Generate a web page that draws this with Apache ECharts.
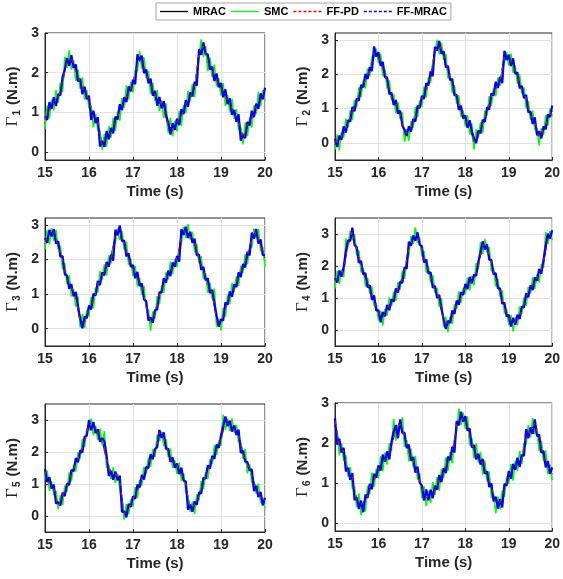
<!DOCTYPE html>
<html>
<head>
<meta charset="utf-8">
<script src="https://cdn.jsdelivr.net/npm/echarts@6/dist/echarts.min.js"></script>
<style>html,body{margin:0;padding:0;background:#fff}#c{width:563px;height:579px}</style>
</head>
<body>
<div id="c"></div>
<script>
const SERIES_NAMES = ['MRAC', 'SMC', 'FF-PD', 'FF-MRAC'];
const X_TICKS = [15, 16, 17, 18, 19, 20];
const Y_TICKS = [0, 1, 2, 3];
const T05 = [15,15.05,15.1,15.15,15.2,15.25,15.3,15.35,15.4,15.45,15.5,15.55,15.6,15.65,15.7,15.75,15.8,15.85,15.9,15.95,
16,16.05,16.1,16.15,16.2,16.25,16.3,16.35,16.4,16.45,16.5,16.55,16.6,16.65,16.7,16.75,16.8,16.85,16.9,16.95,
17,17.05,17.1,17.15,17.2,17.25,17.3,17.35,17.4,17.45,17.5,17.55,17.6,17.65,17.7,17.75,17.8,17.85,17.9,17.95,
18,18.05,18.1,18.15,18.2,18.25,18.3,18.35,18.4,18.45,18.5,18.55,18.6,18.65,18.7,18.75,18.8,18.85,18.9,18.95,
19,19.05,19.1,19.15,19.2,19.25,19.3,19.35,19.4,19.45,19.5,19.55,19.6,19.65,19.7,19.75,19.8,19.85,19.9,19.95,20];
const T10 = [15,15.1,15.2,15.3,15.4,15.5,15.6,15.7,15.8,15.9,16,16.1,16.2,16.3,16.4,16.5,16.6,16.7,16.8,16.9,
17,17.1,17.2,17.3,17.4,17.5,17.6,17.7,17.8,17.9,18,18.1,18.2,18.3,18.4,18.5,18.6,18.7,18.8,18.9,
19,19.1,19.2,19.3,19.4,19.5,19.6,19.7,19.8,19.9,20];

// ---- Gamma 1 ----
const G1_MRAC = [.73,1.14,1.19,1.41,1.71,2.34,2.27,2.10,1.69,1.56,1.25,.92,.69,.23,.34,.58,.72,1.10,1.22,1.56,1.65,2.34,2.24,2.03,1.66,1.51,1.22,1.17,.59,.64,.67,.96,1.12,1.45,1.58,2.56,2.59,2.35,1.99,1.89,1.57,1.46,1.16,1.01,.76,.41,.59,.93,1.06,1.39,1.45];
const G1_SMC = [.58,1.17,.84,1.32,1.05,1.56,1.24,1.75,1.51,2.40,2.12,2.56,2.08,2.32,1.79,2.08,1.59,1.88,1.32,1.56,
1.10,1.17,.62,.96,.55,.54,.06,.45,.14,.65,.36,.86,.53,1.02,.79,1.36,1.12,1.68,1.32,1.76,
1.50,2.07,2.04,2.54,2.10,2.39,1.86,2.05,1.46,1.75,1.29,1.56,1.03,1.30,.86,1.23,.49,.86,.40,.79,
.52,1.04,.66,1.19,.98,1.54,1.28,1.72,1.38,2.00,2.34,2.84,2.40,2.67,2.04,2.38,1.89,2.21,1.65,1.86,
1.42,1.74,1.16,1.44,1.02,1.34,.84,1.08,.56,.62,.19,.74,.40,.87,.62,1.18,.96,1.51,1.15,1.56,1.30];
const G1_FFPD = [.82,1.05,1.28,1.32,1.80,2.25,2.36,2.01,1.77,1.47,1.34,.83,.78,.14,.43,.49,.81,1.01,1.30,1.47,1.74,2.25,2.33,1.94,1.75,1.42,1.31,1.08,.67,.55,.76,.87,1.21,1.36,1.67,2.47,2.68,2.26,2.07,1.80,1.66,1.37,1.25,.92,.85,.32,.68,.84,1.14,1.30,1.54];
const G1_FFMRAC = [.90,.81,1.26,1.09,1.38,1.16,1.46,1.43,1.90,2.07,2.37,2.17,2.44,2.12,2.21,1.78,1.85,1.46,1.65,1.33,
1.42,.81,1.04,.73,.88,.14,.28,.13,.53,.32,.61,.47,.89,.82,1.21,1.06,1.38,1.26,1.65,1.53,
1.82,1.71,2.46,2.31,2.43,1.99,2.08,1.73,1.85,1.42,1.54,1.17,1.39,1.10,1.28,.93,.75,.44,.73,.56,
.84,.68,1.08,.96,1.31,1.14,1.50,1.40,1.77,1.67,2.59,2.45,2.76,2.47,2.46,2.08,2.15,1.79,1.98,1.63,
1.74,1.38,1.58,1.21,1.35,.94,1.06,.76,.95,.29,.44,.35,.76,.67,1.04,.88,1.22,1.09,1.48,1.33,1.62];

// ---- Gamma 2 ----
const G2_MRAC = [-.05,.09,.29,.61,.86,1.26,1.52,1.90,2.04,2.72,2.47,2.24,1.72,1.41,1.06,.91,.22,.37,.54,.99,1.20,1.62,1.89,2.75,2.78,2.64,2.07,1.75,1.24,.99,.63,.54,-.06,.31,.48,1.01,1.27,1.67,1.76,2.59,2.40,2.34,1.86,1.61,1.21,.88,.57,.23,.32,.74,.92];
const G2_SMC = [-.20,.24,-.21,.32,.15,.70,.44,.94,.66,1.25,1.04,1.62,1.33,1.82,1.59,2.16,1.94,2.51,2.48,2.74,
2.32,2.60,1.94,2.14,1.58,1.82,1.24,1.42,.86,1.18,.69,.89,.03,.40,.06,.63,.44,1.04,.75,1.24,
1.05,1.64,1.32,1.90,1.75,2.34,2.58,3.00,2.58,2.92,2.42,2.59,1.88,2.02,1.44,1.68,1.14,1.38,.75,.94,
.48,.80,.24,.56,-.20,.39,.14,.60,.28,.94,.79,1.36,1.08,1.58,1.36,1.90,1.66,2.16,2.35,2.64,
2.25,2.60,2.04,2.24,1.72,1.99,1.44,1.62,1.01,1.22,.66,.94,.38,.42,-.08,.43,.22,.81,.50,.98,.77];
const G2_FFPD = [.04,.00,.38,.52,.95,1.17,1.61,1.81,2.12,2.63,2.56,2.15,1.81,1.32,1.15,.82,.31,.28,.62,.90,1.29,1.53,1.98,2.66,2.87,2.55,2.16,1.66,1.32,.90,.72,.45,.03,.22,.57,.92,1.36,1.58,1.84,2.50,2.49,2.25,1.95,1.52,1.30,.79,.66,.14,.40,.65,1.01];
const G2_FFMRAC = [.12,-.12,.21,.09,.48,.30,.66,.62,1.05,.92,1.29,1.23,1.69,1.62,2.01,1.86,2.20,2.09,2.81,2.51,
2.64,2.24,2.36,1.91,1.91,1.42,1.46,1.10,1.25,.85,.94,.50,.39,.20,.48,.33,.70,.62,1.08,1.01,
1.37,1.28,1.74,1.67,2.08,1.94,2.80,2.68,2.97,2.59,2.67,2.20,2.24,1.82,1.86,1.38,1.40,.96,1.08,.71,
.80,.44,.66,.33,.13,-.01,.36,.28,.67,.61,1.04,.97,1.44,1.38,1.78,1.60,1.92,1.74,2.68,2.41,
2.57,2.24,2.46,2.01,2.05,1.59,1.66,1.30,1.40,.89,.91,.55,.74,.22,.34,.13,.48,.39,.83,.75,1.09];

// ---- Gamma 3 ----
const G3_MRAC = [2.45,2.74,2.69,2.48,1.91,1.51,1.12,.95,.14,.26,.50,.89,1.19,1.58,1.74,2.11,2.69,2.87,2.39,2.09,1.67,1.52,1.12,.75,.14,.51,.89,1.35,1.52,1.82,1.93,2.76,2.76,2.75,2.41,2.11,1.62,1.35,.96,.29,.10,.64,.89,1.23,1.44,1.84,2.05,2.67,2.72,2.49,1.95];
const G3_SMC = [2.30,2.84,2.44,2.90,2.55,2.86,2.31,2.40,1.71,1.90,1.29,1.54,.93,1.14,.64,.93,.04,.43,.02,.54,
.35,.92,.59,1.19,1.05,1.66,1.41,1.86,1.54,2.12,1.89,2.36,2.50,2.90,2.56,2.83,2.29,2.51,1.85,2.02,
1.52,1.82,1.22,1.46,.98,1.24,.58,.55,-.06,.50,.29,.94,.70,1.24,1.04,1.63,1.42,1.94,1.58,2.02,
1.78,2.30,2.46,2.94,2.62,3.02,2.58,2.80,2.21,2.45,1.89,2.09,1.43,1.60,1.04,1.33,.86,1.16,.05,.29,
-.05,.60,.34,.98,.71,1.32,1.06,1.52,1.24,1.82,1.62,2.16,1.86,2.32,2.36,2.90,2.62,2.88,2.25,2.36,1.80];
const G3_FFPD = [2.54,2.65,2.78,2.39,2.00,1.42,1.21,.86,.22,.17,.59,.80,1.28,1.49,1.83,2.02,2.78,2.78,2.47,2.00,1.76,1.43,1.21,.66,.23,.42,.98,1.26,1.60,1.73,2.02,2.67,2.85,2.66,2.50,2.02,1.71,1.26,1.04,.20,.19,.55,.98,1.14,1.53,1.75,2.14,2.58,2.80,2.40,2.04];
const G3_FFMRAC = [2.62,2.48,2.86,2.67,2.88,2.46,2.53,2.08,2.10,1.57,1.54,1.15,1.29,.94,1.06,.63,.30,.01,.35,.31,
.67,.56,1.01,.96,1.38,1.26,1.63,1.54,1.93,1.79,2.14,1.97,2.86,2.70,2.98,2.53,2.55,2.09,2.18,1.79,
1.84,1.46,1.64,1.23,1.31,.84,.80,.23,.33,.17,.54,.55,1.06,1.04,1.46,1.33,1.68,1.52,1.91,1.79,
2.10,1.94,2.88,2.71,2.95,2.62,2.80,2.48,2.60,2.12,2.14,1.70,1.79,1.40,1.46,1.03,1.12,.74,.38,.06,
.27,.24,.76,.69,1.08,.92,1.28,1.20,1.63,1.49,1.87,1.77,2.22,2.12,2.78,2.60,2.88,2.46,2.58,2.13,2.12];

// ---- Gamma 4 ----
const G4_MRAC = [1.45,1.74,1.79,2.75,3.01,2.56,1.99,1.67,1.24,.99,.45,.44,.59,.91,1.11,1.48,1.79,2.65,2.79,2.96,2.45,2.09,1.62,1.33,.91,.31,.12,.50,.76,1.09,1.27,1.54,1.54,2.08,2.58,2.64,2.02,1.67,1.14,.76,.30,.26,.29,.68,.96,1.36,1.47,1.80,2.04,2.92,2.95];
const G4_SMC = [1.30,1.84,1.44,1.89,1.65,2.86,2.58,3.10,2.81,2.98,2.34,2.49,1.80,1.94,1.36,1.63,1.14,1.36,.75,.84,
.30,.60,.14,.66,.45,1.02,.74,1.20,.91,1.50,1.26,1.86,1.60,2.12,2.34,2.93,2.69,3.21,2.72,2.89,
2.30,2.47,1.79,1.99,1.48,1.72,1.16,1.32,.71,1.00,.09,.42,-.07,.42,.19,.80,.66,1.21,.85,1.32,
1.12,1.64,1.24,1.69,1.40,2.09,1.91,2.75,2.38,2.85,2.42,2.59,1.83,1.94,1.36,1.60,1.04,1.24,.52,.66,
.15,.47,-.04,.40,.15,.74,.51,1.02,.76,1.35,1.14,1.64,1.28,1.74,1.49,2.06,1.94,3.06,2.68,3.09,2.80];
const G4_FFPD = [1.54,1.65,1.88,2.66,3.10,2.47,2.08,1.58,1.32,.90,.54,.35,.68,.82,1.20,1.39,1.88,2.56,2.87,2.87,2.54,2.00,1.71,1.24,1.00,.22,.21,.41,.84,1.00,1.36,1.45,1.63,1.99,2.67,2.55,2.11,1.58,1.22,.67,.39,.17,.38,.59,1.05,1.27,1.56,1.71,2.12,2.83,3.04];
const G4_FFMRAC = [1.62,1.48,1.86,1.66,1.98,2.46,2.80,2.78,3.20,2.65,2.59,2.10,2.16,1.74,1.78,1.33,1.40,.94,1.08,.61,
.62,.24,.56,.43,.78,.62,.96,.88,1.30,1.17,1.51,1.47,1.96,1.92,2.76,2.63,2.95,2.79,3.05,2.66,
2.62,2.11,2.21,1.76,1.81,1.32,1.38,1.00,1.10,.67,.34,.03,.29,.22,.61,.50,.92,.79,1.18,1.09,
1.44,1.28,1.66,1.46,1.73,1.69,2.13,2.43,2.77,2.52,2.67,2.20,2.19,1.74,1.78,1.30,1.30,.82,.85,.43,
.47,.11,.38,.17,.48,.34,.73,.70,1.15,1.02,1.39,1.25,1.64,1.54,1.91,1.76,2.20,2.64,3.01,2.86,3.12];

// ---- Gamma 5 ----
const G5_MRAC = [1.30,1.09,.79,.38,.54,.98,1.27,1.70,1.89,2.39,2.83,2.82,2.52,2.38,1.71,1.38,1.22,1.15,-.01,.29,.45,.86,1.09,1.48,1.74,2.06,2.52,2.50,1.94,1.74,1.47,1.39,.89,.31,.26,.71,1.02,1.47,1.72,2.14,2.35,2.99,2.79,2.78,2.51,2.01,1.52,1.35,.79,.66,.40];
const G5_SMC = [1.15,1.42,.79,1.09,.65,.79,.21,.65,.34,.95,.76,1.36,1.08,1.60,1.39,1.98,1.79,2.41,2.15,2.74,
2.68,3.04,2.52,2.82,2.38,2.72,2.21,2.65,1.51,1.58,1.16,1.52,1.03,1.32,.84,.43,-.11,.38,.05,.52,
.30,.90,.56,1.12,.95,1.54,1.31,1.82,1.54,2.10,1.84,2.54,2.33,2.64,2.19,2.40,1.84,2.11,1.50,1.74,
1.32,1.67,1.09,1.34,.75,.59,.14,.45,.06,.68,.49,1.09,.83,1.37,1.16,1.78,1.62,2.21,1.90,2.36,
2.20,3.17,2.69,3.04,2.65,3.04,2.61,2.85,2.31,2.30,1.79,2.09,1.33,1.62,1.04,1.08,.69,1.01,.42,.56,.25];
const G5_FFPD = [1.39,1.00,.88,.29,.63,.89,1.36,1.61,1.97,2.30,2.92,2.73,2.61,2.29,1.80,1.29,1.31,1.06,.07,.20,.54,.77,1.18,1.39,1.83,1.97,2.61,2.41,2.02,1.65,1.56,1.30,.98,.22,.35,.62,1.11,1.38,1.80,2.05,2.44,2.90,2.88,2.69,2.60,1.92,1.61,1.26,.87,.57,.49];
const G5_FFMRAC = [1.47,1.06,1.21,.86,.98,.39,.43,.33,.73,.62,1.01,.97,1.44,1.40,1.81,1.68,2.05,1.99,2.48,2.51,
3.00,2.68,2.94,2.59,2.71,2.32,2.43,2.33,1.90,1.25,1.41,1.13,1.39,1.12,1.26,.13,.15,-.04,.38,.29,
.62,.54,.98,.89,1.28,1.14,1.53,1.50,1.93,1.77,2.09,2.15,2.69,2.44,2.61,2.10,2.10,1.69,1.83,1.51,
1.64,1.31,1.51,1.11,1.08,.19,.36,.13,.45,.35,.74,.70,1.19,1.17,1.58,1.48,1.88,1.79,2.23,2.13,
2.52,2.81,3.11,2.81,2.98,2.64,2.83,2.53,2.70,1.97,2.04,1.70,1.69,1.42,1.46,.78,.95,.59,.75,.33,.57];

// ---- Gamma 6 ----
const G6_MRAC = [2.45,1.99,1.69,1.33,1.06,.61,.39,.60,.82,1.14,1.27,1.59,1.60,1.98,2.26,2.56,2.09,1.85,1.49,1.32,.77,.72,.64,.88,1.01,1.34,1.49,1.80,2.39,2.69,2.50,2.24,1.76,1.68,1.41,1.26,.82,.55,.44,.89,1.13,1.36,1.44,1.65,2.16,2.36,2.42,2.10,1.64,1.46,1.22];
const G6_SMC = [2.30,2.32,1.69,1.99,1.55,1.69,1.16,1.40,.86,.90,.39,.74,.20,.47,.29,.93,.72,1.26,.90,1.36,
1.12,1.67,1.29,1.76,1.46,1.99,1.81,2.60,2.06,2.45,2.34,2.64,1.90,2.07,1.54,1.86,1.39,1.68,1.08,1.24,
.62,.92,.42,.80,.50,1.02,.71,1.15,.81,1.35,1.12,1.64,1.30,1.77,1.49,2.06,2.29,2.86,2.45,2.76,
2.35,2.67,1.94,2.12,1.62,1.99,1.51,1.78,1.21,1.56,1.04,1.29,.63,.74,.24,.66,.34,.81,.65,1.16,
.98,1.47,1.06,1.56,1.30,1.80,1.48,2.00,1.96,2.45,2.14,2.62,2.23,2.37,1.79,2.06,1.54,1.81,1.22,1.46,1.07];
const G6_FFPD = [2.54,1.90,1.78,1.24,1.15,.52,.48,.51,.90,1.05,1.36,1.50,1.69,1.89,2.35,2.47,2.18,1.76,1.57,1.23,.86,.63,.73,.79,1.10,1.25,1.58,1.71,2.47,2.60,2.59,2.15,1.85,1.59,1.50,1.17,.91,.46,.52,.80,1.22,1.27,1.53,1.56,2.25,2.27,2.51,2.01,1.72,1.37,1.31];
const G6_FFMRAC = [2.62,1.96,2.11,1.76,1.88,1.29,1.38,1.08,1.25,.57,.64,.35,.56,.27,.71,.63,.98,.84,1.23,1.13,
1.44,1.31,1.71,1.53,1.79,1.59,2.03,2.28,2.45,2.12,2.59,2.25,2.26,1.87,1.96,1.56,1.65,1.26,1.41,1.01,
.94,.56,.84,.57,.83,.62,.93,.83,1.20,1.02,1.37,1.25,1.66,1.57,1.91,1.76,2.55,2.44,2.78,2.53,
2.67,2.31,2.36,1.89,1.95,1.59,1.73,1.46,1.60,1.23,1.29,.90,.99,.54,.66,.36,.60,.39,.98,.93,
1.30,1.11,1.48,1.33,1.63,1.40,1.70,1.68,2.35,2.12,2.39,2.23,2.59,2.17,2.21,1.76,1.80,1.39,1.55,1.23,1.39];

const PANELS = [
  {sub: '1', min: -0.2, max: 3,   data: [G1_MRAC, G1_SMC, G1_FFPD, G1_FFMRAC]},
  {sub: '2', min: -0.5, max: 3.2, data: [G2_MRAC, G2_SMC, G2_FFPD, G2_FFMRAC]},
  {sub: '3', min: -0.5, max: 3.2, data: [G3_MRAC, G3_SMC, G3_FFPD, G3_FFMRAC]},
  {sub: '4', min: -0.5, max: 3.5, data: [G4_MRAC, G4_SMC, G4_FFPD, G4_FFMRAC]},
  {sub: '5', min: -0.5, max: 3.5, data: [G5_MRAC, G5_SMC, G5_FFPD, G5_FFMRAC]},
  {sub: '6', min: -0.2, max: 3,   data: [G6_MRAC, G6_SMC, G6_FFPD, G6_FFMRAC]}
];

// layout
const GRIDS = [
  {left: 45, top: 33, width: 220, height: 127},
  {left: 335, top: 33, width: 219, height: 127},
  {left: 45, top: 218, width: 220, height: 128},
  {left: 335, top: 218, width: 219, height: 128},
  {left: 45, top: 404, width: 220, height: 128},
  {left: 335, top: 403, width: 219, height: 128}
];
const COLORS = ['#000000', '#00ff00', '#ff0000', '#0000ff'];
const WIDTHS = [1, 1.6, 1.2, 2.2];
const ZS = [2, 3, 5, 4];
const TIMES = [T10, T05, T10, T05];
const INK = '#262626';
const FONT = '"Liberation Sans", Arial, sans-serif';
const ICON_SOLID = 'path://M0,0h28v1.3h-28z';
const ICON_DASH = 'path://M0,0h3v1.3h-3zM5,0h3v1.3h-3zM10,0h3v1.3h-3zM15,0h3v1.3h-3zM20,0h3v1.3h-3zM25,0h3v1.3h-3z';

const chart = echarts.init(document.getElementById('c'), null, {renderer: 'canvas'});
const grid = [], xAxis = [], yAxis = [], series = [];
PANELS.forEach((p, gi) => {
  grid.push(Object.assign({show: true, borderColor: INK, borderWidth: 1, backgroundColor: 'transparent'}, GRIDS[gi]));
  xAxis.push({
    type: 'value', gridIndex: gi, min: 15, max: 20, interval: 1,
    axisLine: {show: true, onZero: false, lineStyle: {color: INK, width: 1}},
    axisTick: {show: true, inside: true, length: 3, lineStyle: {color: INK}},
    axisLabel: {color: INK, fontSize: 14, fontWeight: 'bold', fontFamily: FONT, margin: 6},
    splitLine: {show: true, lineStyle: {color: '#e3e3e3', width: 1}},
    name: 'Time (s)', nameLocation: 'middle', nameGap: 24,
    nameTextStyle: {color: INK, fontSize: 15, fontWeight: 'bold', fontFamily: FONT}
  });
  yAxis.push({
    type: 'value', gridIndex: gi, min: p.min, max: p.max,
    axisLine: {show: true, onZero: false, lineStyle: {color: INK, width: 1}},
    axisTick: {show: true, inside: true, length: 3, lineStyle: {color: INK}, customValues: Y_TICKS},
    axisLabel: {color: INK, fontSize: 14, fontWeight: 'bold', fontFamily: FONT, margin: 6, customValues: Y_TICKS},
    splitLine: {show: true, lineStyle: {color: '#e3e3e3', width: 1}},
    name: '{g|Γ}{s|' + p.sub + '}{u| (N.m)}', nameLocation: 'middle', nameGap: 23,
    nameTextStyle: {
      color: INK,
      rich: {
        g: {fontFamily: '"Liberation Serif", "DejaVu Serif", serif', fontSize: 17, color: INK},
        s: {fontFamily: FONT, fontSize: 10, fontWeight: 'bold', color: INK, verticalAlign: 'bottom', padding: [8, 1, 0, 1]},
        u: {fontFamily: FONT, fontSize: 15, fontWeight: 'bold', color: INK}
      }
    }
  });
  p.data.forEach((vals, si) => {
    const t = TIMES[si];
    series.push({
      type: 'line', name: SERIES_NAMES[si], xAxisIndex: gi, yAxisIndex: gi,
      data: vals.map((v, i) => [t[i], v]),
      symbol: 'none', animation: false, silent: true,
      lineStyle: si === 2
        ? {color: COLORS[si], width: WIDTHS[si], type: [3, 7]}
        : {color: COLORS[si], width: WIDTHS[si]},
      itemStyle: {color: COLORS[si]},
      z: ZS[si]
    });
  });
});

chart.setOption({
  animation: false,
  legend: {
    top: 3, left: 156, orient: 'horizontal',
    backgroundColor: '#fff', borderColor: '#a6a6a6', borderWidth: 1,
    padding: [3, 4, 3, 4], itemGap: 5, itemWidth: 28, itemHeight: 10,
    textStyle: {color: '#000', fontSize: 11, fontWeight: 'bold', fontFamily: FONT},
    data: SERIES_NAMES.map((n, i) => ({
      name: n,
      icon: i < 2 ? ICON_SOLID : ICON_DASH,
      itemStyle: {color: COLORS[i], borderWidth: 0, opacity: 1}
    }))
  },
  grid, xAxis, yAxis, series
});
</script>
</body>
</html>
